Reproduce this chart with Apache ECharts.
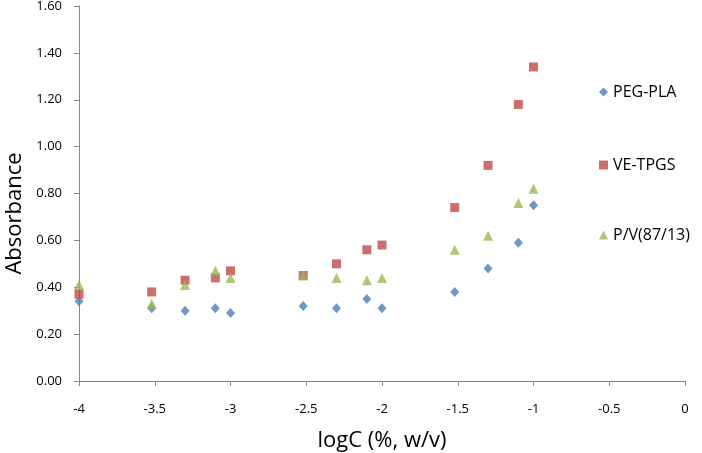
<!DOCTYPE html>
<html>
<head>
<meta charset="utf-8">
<style>
  html, body { margin: 0; padding: 0; background: #fff; }
  #chart { width: 702px; height: 453px; }
</style>
<script src="https://cdn.jsdelivr.net/npm/echarts@6/dist/echarts.min.js"></script>
</head>
<body>
<div id="chart"></div>
<script>
// x values: log of concentration
var logC = [-4, -3.52, -3.3, -3.1, -3, -2.52, -2.3, -2.1, -2, -1.52, -1.3, -1.1, -1]

// absorbance per carrier
var pegPla = [0.34, 0.31, 0.30, 0.31, 0.29, 0.32, 0.31, 0.35, 0.31, 0.38, 0.48, 0.59, 0.75]
var veTpgs = [0.37, 0.38, 0.43, 0.44, 0.47, 0.45, 0.50, 0.56, 0.58, 0.74, 0.92, 1.18, 1.34]
var pv = [0.41, 0.33, 0.41, 0.47, 0.44, 0.45, 0.44, 0.43, 0.44, 0.56, 0.62, 0.76, 0.82]

var seriesNames = ['PEG-PLA', 'VE-TPGS', 'P/V(87/13)']

function pairs(ys) {
  return logC.map(function (x, i) { return [x, ys[i]] })
}

var font = 'Open Sans'
var axisGray = '#878787'

var chart = echarts.init(document.getElementById('chart'))

function legendAt(name, icon, top) {
  return {
    orient: 'vertical',
    left: 594,
    top: top,
    itemWidth: 9,
    itemHeight: 9,
    itemGap: 0,
    data: [{ name: name, icon: icon }],
    textStyle: { fontFamily: font, fontSize: 16, color: '#000' }
  }
}

chart.setOption({
  animation: false,
  legend: [
    legendAt(seriesNames[0], 'diamond', 79),
    legendAt(seriesNames[1], 'rect', 152),
    legendAt(seriesNames[2], 'triangle', 222)
  ],
  grid: {
    left: 79,
    right: 17,
    top: 6,
    bottom: 72,
    containLabel: false,
    outerBoundsMode: 'none'
  },
  xAxis: {
    type: 'value',
    min: -4,
    max: 0,
    interval: 0.5,
    name: 'logC (%, w/v)',
    nameLocation: 'middle',
    nameGap: 49,
    nameTextStyle: { fontFamily: font, fontSize: 22, color: '#000' },
    splitLine: { show: false },
    axisLine: { onZero: false, lineStyle: { color: axisGray } },
    axisTick: { length: 5, lineStyle: { color: axisGray } },
    axisLabel: { margin: 22, fontFamily: font, fontSize: 13, color: '#000' }
  },
  yAxis: {
    type: 'value',
    min: 0,
    max: 1.6,
    interval: 0.2,
    name: 'Absorbance',
    nameLocation: 'middle',
    nameGap: 53,
    nameTextStyle: { fontFamily: font, fontSize: 22, color: '#000', padding: [0, 40, 0, 0] },
    splitLine: { show: false },
    axisLine: { show: true, onZero: false, lineStyle: { color: axisGray } },
    axisTick: { show: true, length: 5, lineStyle: { color: axisGray } },
    axisLabel: {
      margin: 17,
      fontFamily: font,
      fontSize: 13,
      color: '#000',
      formatter: function (v) { return v.toFixed(2) }
    }
  },
  series: [{
    name: seriesNames[0],
    type: 'scatter',
    symbol: 'diamond',
    symbolSize: [9, 10],
    itemStyle: { color: '#4A7EBB' },
    data: pairs(pegPla)
  }, {
    name: seriesNames[1],
    type: 'scatter',
    symbol: 'rect',
    symbolSize: 9,
    itemStyle: { color: '#BE4B48' },
    data: pairs(veTpgs)
  }, {
    name: seriesNames[2],
    type: 'scatter',
    symbol: 'triangle',
    symbolSize: 10,
    itemStyle: { color: '#98B954' },
    data: pairs(pv)
  }]
})
</script>
</body>
</html>
